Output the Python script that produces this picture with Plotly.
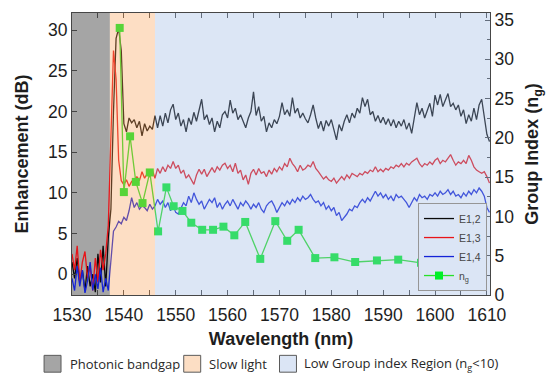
import numpy as np
import plotly.graph_objects as go

# ---------------- data ----------------
WL_START = 1530.0
WL_STEP = 0.5

E12 = [
    1.5, -0.5, 2.0, -1.0, 0.5, -2.0, 1.0, -1.5, 0.0, -2.2,      # 1530
    2.5, -1.0, 3.5, -1.5, 4.5, 8.0, 20.0, 29.0, 30.2, 27.5,     # 1535
    18.5, 17.5, 19.2, 18.6, 19.0, 18.0, 18.8, 17.0, 18.5, 17.6, # 1540
    18.2, 17.8, 19.5, 18.0, 19.5, 18.2, 19.8, 18.6, 20.2, 20.9, # 1545
    19.0, 19.8, 18.2, 19.0, 17.5, 19.2, 18.4, 19.9, 18.8, 20.2, # 1550
    21.5, 19.0, 19.6, 18.4, 19.2, 17.5, 18.8, 18.0, 19.6, 20.0, # 1555
    19.2, 21.4, 19.8, 20.4, 19.0, 19.6, 18.7, 18.0, 19.2, 20.0, # 1560
    22.4, 19.5, 20.6, 18.8, 19.4, 17.5, 18.6, 18.0, 19.0, 18.5, # 1565
    19.4, 21.1, 19.6, 20.2, 19.4, 21.7, 19.8, 20.4, 19.2, 19.8, # 1570
    19.1, 18.6, 19.6, 20.8, 19.2, 17.9, 18.8, 17.6, 18.9, 18.2, # 1575
    19.0, 17.8, 16.5, 18.4, 17.6, 18.8, 19.6, 18.6, 19.8, 19.2, # 1580
    20.4, 19.8, 21.7, 20.6, 21.5, 19.6, 20.0, 18.8, 19.5, 18.6, # 1585
    19.3, 18.4, 19.1, 18.2, 19.0, 18.0, 18.8, 18.2, 19.0, 17.8, # 1590
    18.6, 17.3, 19.4, 21.1, 19.6, 20.4, 19.2, 20.0, 21.0, 19.4, # 1595
    22.0, 20.8, 22.1, 20.6, 21.4, 22.2, 20.6, 21.0, 20.2, 20.8, # 1600
    19.4, 20.2, 18.5, 19.6, 18.8, 20.4, 19.0, 20.8, 21.5, 19.5, # 1605
    17.2, 16.3,                                                 # 1610
]

E13 = [
    2.5, 0.5, 3.5, -1.0, 1.5, 2.8, -0.5, 1.0, -2.0, 2.0,        # 1530
    -1.0, 3.0, 0.5, 2.5, 6.0, 18.0, 27.5, 24.0, 14.0, 11.5,     # 1535
    11.0, 11.6, 10.8, 11.4, 11.2, 12.0, 11.5, 12.6, 11.8, 12.4, # 1540
    12.0, 12.8, 11.8, 13.0, 12.4, 13.2, 12.6, 13.4, 13.0, 13.85,# 1545
    13.0, 13.4, 12.4, 12.8, 11.8, 12.2, 11.6, 11.05, 12.2, 12.9,# 1550
    12.3, 12.9, 12.0, 12.6, 13.1, 12.5, 13.2, 12.8, 13.4, 13.65,# 1555
    13.0, 13.4, 12.6, 13.65, 12.4, 12.8, 11.6, 12.2, 11.05, 12.4,# 1560
    12.9, 12.2, 13.0, 12.4, 12.6, 12.0, 12.8, 12.3, 13.0, 12.6, # 1565
    13.2, 12.8, 13.6, 13.2, 14.25, 13.6, 13.2, 12.6, 13.4, 12.8,# 1570
    13.0, 13.4, 13.2, 13.85, 13.0, 12.6, 12.2, 11.7, 12.0, 11.6,# 1575
    11.4, 11.8, 11.2, 11.6, 12.0, 11.6, 12.2, 11.8, 12.4, 12.2, # 1580
    12.0, 12.4, 12.2, 12.6, 12.4, 12.8, 12.6, 13.2, 12.6, 12.9, # 1585
    12.6, 13.0, 12.8, 13.2, 13.0, 13.4, 13.2, 13.6, 13.2, 13.65,# 1590
    13.4, 13.8, 14.0, 14.25, 13.6, 13.2, 13.6, 13.4, 13.8, 13.5,# 1595
    14.0, 14.25, 13.6, 14.0, 13.8, 14.2, 14.7, 14.0, 13.4, 13.8,# 1600
    13.6, 14.0, 13.6, 14.6, 14.0, 13.2, 12.8, 12.6, 12.4, 12.6, # 1605
    12.0, 11.2,                                                 # 1610
]

E14 = [
    -0.5, -2.0, 1.0, -1.5, 0.5, -2.3, -0.8, 1.5, -2.0, 0.0,     # 1530
    -1.8, 0.8, -2.2, -0.5, -2.0, 2.0, 5.3, 5.8, 6.5, 6.2,       # 1535
    7.0, 6.6, 7.8, 9.4, 8.2, 8.8, 8.0, 8.4, 8.2, 7.8,           # 1540
    8.6, 8.0, 8.4, 9.2, 8.6, 9.0, 8.2, 8.8, 7.8, 8.4,           # 1545
    7.6, 7.4, 8.2, 8.8, 8.4, 9.6, 8.8, 10.0, 9.2, 8.6,          # 1550
    9.0, 8.0, 8.6, 9.2, 8.8, 9.4, 8.2, 8.8, 8.0, 8.6,           # 1555
    9.0, 8.4, 9.2, 8.6, 8.0, 8.8, 8.4, 9.0, 8.6, 8.0,           # 1560
    8.6, 8.2, 8.8, 8.0, 7.6, 8.4, 8.8, 9.0, 8.4, 7.6,           # 1565
    8.2, 8.8, 8.4, 9.0, 8.6, 9.2, 8.8, 9.4, 9.0, 9.6,           # 1570
    9.2, 9.4, 9.8, 9.2, 8.8, 9.0, 8.4, 8.8, 8.0, 8.4,           # 1575
    7.8, 8.2, 7.2, 7.6, 6.6, 7.0, 7.4, 8.0, 7.8, 8.4,           # 1580
    8.2, 8.8, 9.2, 8.8, 9.4, 9.0, 9.6, 10.2, 9.6, 10.0,         # 1585
    9.4, 9.8, 9.2, 9.6, 9.0, 9.8, 9.4, 9.6, 9.2, 8.8,           # 1590
    8.2, 8.8, 9.4, 9.0, 9.8, 9.4, 9.6, 9.2, 9.8, 9.6,           # 1595
    10.0, 9.6, 10.2, 9.8, 10.0, 10.4, 9.8, 10.2, 9.6, 9.8,      # 1600
    9.4, 10.0, 9.6, 10.2, 9.8, 10.4, 10.0, 10.6, 10.2, 9.6,     # 1605
    8.2, 7.6,                                                   # 1610
]

NG_WL = [1539.2, 1540.0, 1541.2, 1542.3, 1543.6, 1545.0, 1546.6, 1548.2, 1549.6,
         1551.3, 1553.0, 1555.1, 1557.2, 1559.2, 1561.3, 1563.4, 1566.3, 1569.2,
         1571.5, 1573.7, 1576.9, 1580.6, 1584.6, 1588.8, 1592.9, 1597.3, 1601.5]
NG = [34.0, 13.1, 20.2, 14.4, 11.7, 15.6, 8.1, 13.7, 11.3,
      10.7, 9.2, 8.3, 8.3, 8.7, 7.6, 9.3, 4.6, 9.4,
      6.9, 8.3, 4.7, 4.8, 4.2, 4.4, 4.5, 4.1, 3.0]

REGION_NAMES = ["Photonic bandgap", "Slow light", "Low Group index Region (n<sub>g</sub>&lt;10)"]
REGION_EDGES = [1530.0, 1537.3, 1546.0, 1610.6]

X_RANGE = [1530, 1610.6]
Y1_RANGE = [-2.55, 32.1]
Y2_RANGE = [0, 35.9]

# ---------------- figure ----------------
wl = WL_START + WL_STEP * np.arange(len(E12))

FONT = "Liberation Sans, Arial, sans-serif"
AX = "rgb(70,70,70)"

fig = go.Figure()
fig.add_trace(go.Scatter(x=wl, y=E12, name="E1,2", mode="lines",
                         line=dict(color="rgb(10,10,10)", width=1.3)))
fig.add_trace(go.Scatter(x=wl, y=E13, name="E1,3", mode="lines",
                         line=dict(color="rgb(232,20,25)", width=1.3)))
fig.add_trace(go.Scatter(x=wl, y=E14, name="E1,4", mode="lines",
                         line=dict(color="rgb(20,35,215)", width=1.3)))
fig.add_trace(go.Scatter(x=NG_WL, y=NG, name="n<sub>g</sub>", mode="lines+markers",
                         yaxis="y2",
                         line=dict(color="rgb(40,225,40)", width=1.3),
                         marker=dict(symbol="square", size=8, color="rgb(0,240,40)")))

region_fill = ["rgb(165,165,165)", "rgb(249,161,86)", "rgb(155,184,226)"]
region_swatch = ["rgb(165,165,165)", "rgb(252,222,196)", "rgb(219,229,245)"]
for i in range(3):
    if i == 0:
        fig.add_shape(type="rect", xref="x", yref="paper", x0=REGION_EDGES[i], x1=REGION_EDGES[i + 1],
                      y0=0, y1=1, fillcolor=region_fill[i], line_width=0, layer="below")
    else:
        fig.add_shape(type="rect", xref="x", yref="paper", x0=REGION_EDGES[i], x1=REGION_EDGES[i + 1],
                      y0=0, y1=1, fillcolor=region_fill[i], opacity=0.35, line_width=0, layer="above")

# bottom region legend (paper coords; plot area 72..491 x 10..295 px)
W, H = 419.0, 285.0
def px_x(p):
    return (p - 72) / W
def px_y(p):
    return (295 - p) / H

sw_x = [44, 184, 280]
tx_x = [68, 207, 303]
for i in range(3):
    fig.add_shape(type="rect", xref="paper", yref="paper",
                  x0=px_x(sw_x[i]), x1=px_x(sw_x[i] + 17), y0=px_y(373), y1=px_y(356),
                  fillcolor=region_swatch[i], line=dict(color="rgb(90,90,90)", width=1))
    fig.add_annotation(xref="paper", yref="paper", x=px_x(tx_x[i]), y=px_y(364.5),
                       xanchor="left", yanchor="middle", showarrow=False,
                       text=REGION_NAMES[i],
                       font=dict(family="Open Sans, sans-serif", size=13, color="rgb(40,40,40)"))

fig.update_layout(
    width=549, height=382,
    margin=dict(l=72, r=58, t=10, b=87),
    paper_bgcolor="white", plot_bgcolor="white",
    font=dict(family=FONT, size=17.5, color="rgb(30,30,30)"),
    xaxis=dict(range=X_RANGE, showgrid=False, zeroline=False, showline=True, linecolor=AX,
               mirror="ticks", ticks="inside", ticklen=5, tickcolor=AX, dtick=10, tick0=1530,
               minor=dict(dtick=5, ticks="inside", ticklen=5, tickcolor=AX),
               ticklabelstandoff=4,
               title=dict(text="<b>Wavelength (nm)</b>", font=dict(size=18, family=FONT), standoff=8),
               tickfont=dict(size=17.5)),
    yaxis=dict(range=Y1_RANGE, showgrid=False, zeroline=False, showline=True, linecolor=AX,
               ticks="inside", ticklen=5, tickcolor=AX, dtick=5, tick0=0,
               title=dict(text="<b>Enhancement (dB)</b>", font=dict(size=18, family=FONT), standoff=14),
               tickfont=dict(size=17.5)),
    yaxis2=dict(range=Y2_RANGE, overlaying="y", side="right", showgrid=False, zeroline=False,
                showline=True, linecolor=AX, ticks="inside", ticklen=5, tickcolor=AX, dtick=5, tick0=0,
                minor=dict(dtick=2.5, ticks="inside", ticklen=3, tickcolor=AX),
                title=dict(text="<b>Group Index (n<sub>g</sub>)</b>", font=dict(size=18, family=FONT), standoff=12),
                tickfont=dict(size=17.5)),
    showlegend=True,
    legend=dict(x=px_x(488), y=px_y(291), xanchor="right", yanchor="bottom",
                bgcolor="rgb(219,229,245)", bordercolor="rgb(150,150,150)", borderwidth=1,
                font=dict(size=10.5, family=FONT, color="rgb(70,70,70)"),
                itemwidth=30, tracegroupgap=0),
)

fig.write_html("out.html")
